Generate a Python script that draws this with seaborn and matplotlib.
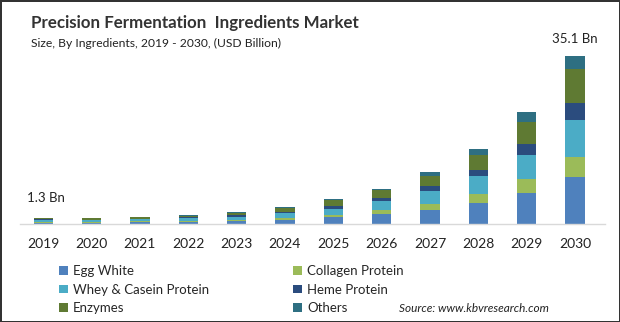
import matplotlib
matplotlib.use("Agg")
import matplotlib.pyplot as plt
import seaborn as sns
import numpy as np
from matplotlib.patches import Patch

years = ["2019", "2020", "2021", "2022", "2023", "2024", "2025", "2026", "2027", "2028", "2029", "2030"]
egg_white = [0.28, 0.27, 0.32, 0.42, 0.55, 0.77, 1.46, 2.15, 3.0, 4.4, 6.5, 9.8]
collagen = [0.20, 0.19, 0.23, 0.28, 0.35, 0.50, 0.50, 0.84, 1.25, 1.95, 2.9, 4.2]
whey_casein = [0.35, 0.34, 0.40, 0.50, 0.65, 0.95, 1.25, 1.74, 2.6, 3.6, 5.0, 7.7]
heme = [0.15, 0.14, 0.17, 0.20, 0.30, 0.30, 0.63, 0.63, 1.05, 1.4, 2.4, 3.6]
enzymes = [0.22, 0.21, 0.26, 0.35, 0.40, 0.75, 1.10, 1.80, 2.1, 3.1, 4.5, 7.0]
others = [0.10, 0.10, 0.12, 0.15, 0.20, 0.23, 0.35, 0.25, 0.77, 1.25, 2.0, 2.8]
series_names = ["Egg White", "Collagen Protein", "Whey & Casein Protein", "Heme Protein", "Enzymes", "Others"]
label_first = "1.3 Bn"
label_last = "35.1 Bn"

colors = ["#4f81bd", "#9bbb59", "#4bacc6", "#2b4c7e", "#5f7a33", "#2e6f82"]

sns.set_style("white")
plt.rcParams["font.family"] = ["Lato", "DejaVu Sans"]

fig = plt.figure(figsize=(6.2, 3.22), dpi=100, linewidth=2, edgecolor="#333333")
ax = fig.add_axes([20 / 620, 98 / 322, 585 / 620, 194 / 322])

series = [egg_white, collagen, whey_casein, heme, enzymes, others]
bottom = np.zeros(len(years))
for name, vals, col in zip(series_names, series, colors):
    sns.barplot(x=years, y=vals, order=years, bottom=bottom, color=col, saturation=1,
                width=0.4, errorbar=None, ax=ax, linewidth=0)
    bottom = bottom + np.array(vals)

ax.set_xlim(-0.48, 11.62)
ax.set_ylim(0, 194 * 35.1 / 168)
for s in ["top", "right", "left"]:
    ax.spines[s].set_visible(False)
ax.spines["bottom"].set_color("#d9d9d9")
ax.spines["bottom"].set_linewidth(1)
ax.set_yticks([])
ax.set_xlabel("")
ax.set_ylabel("")
ax.tick_params(axis="x", length=0, pad=10, labelsize=10, labelcolor="#222222")

ax.annotate(label_first, xy=(0.05, bottom[0]), xytext=(0, 10), textcoords="offset points",
            ha="center", va="bottom", fontsize=9.5, color="#222222")
ax.annotate(label_last, xy=(11, bottom[-1]), xytext=(0, 8), textcoords="offset points",
            ha="center", va="bottom", fontsize=9.5, color="#222222")

fig.text(31 / 620, 1 - 23 / 322, "Precision Fermentation  Ingredients Market", fontsize=12.2,
         fontweight="bold", color="#333333", va="center", ha="left")
fig.text(31 / 620, 1 - 43 / 322, "Size, By Ingredients, 2019 - 2030, (USD Billion)", fontsize=8.7,
         color="#222222", va="center", ha="left")

handles = [Patch(facecolor=c, edgecolor="none") for c in colors]
order = [0, 2, 4, 1, 3, 5]
fig.legend([handles[i] for i in order], [series_names[i] for i in order], ncol=2,
           loc="upper left", bbox_to_anchor=(59 / 620, 1 - 265 / 322), frameon=False,
           fontsize=9.5, handlelength=0.65, handleheight=0.65, handletextpad=0.4,
           columnspacing=6.4, labelspacing=0.5, borderaxespad=0, borderpad=0)

fig.text(474 / 620, 1 - 309 / 322, "Source: www.kbvresearch.com", fontsize=8.5, style="italic",
         color="#222222", va="center", ha="center")

fig.savefig("out.png", dpi=100)
